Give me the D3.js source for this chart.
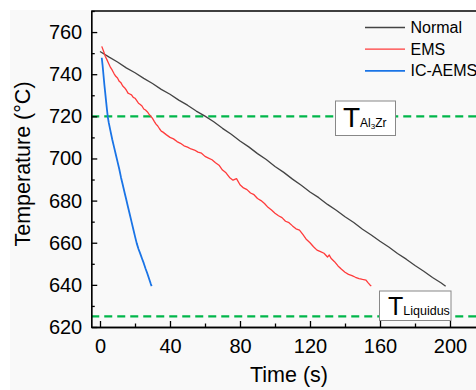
<!DOCTYPE html>
<html>
	<head>
		<meta charset = "utf-8">
		<script src = "https://d3js.org/d3.v7.min.js"></script>
		<style>
			body { margin: 0; background: #ffffff; }
			text { font-family: "Liberation Sans", Arial, sans-serif; fill: #000; }
		</style>
	</head>
	<body>
		<script>
			/* datos */
			var normalTime = [0, 5, 10, 15, 20, 25, 30, 35, 40, 45, 50, 55, 60, 65, 70, 75, 80, 85, 90, 95, 100,
			                  105, 110, 115, 120, 125, 130, 135, 140, 145, 150, 155, 160, 165, 170, 175, 180, 185, 190, 195, 197.5];
			var normalTemp = [750.8, 748.2, 745.8, 743.0, 740.7, 738.0, 735.6, 732.8, 730.5, 727.7, 725.3, 722.5, 720.1, 717.4, 714.3, 711.5, 708.3, 705.5, 702.3, 699.5, 696.2,
			                  693.4, 690.2, 687.3, 684.1, 681.4, 678.2, 675.4, 672.3, 669.6, 666.4, 663.7, 660.7, 658.0, 654.9, 652.2, 649.2, 646.5, 643.5, 640.9, 639.3];

			var emsTime = [1, 2, 3, 4, 5, 6, 7, 8, 9, 10, 11, 12, 13, 14, 15, 16, 17, 18, 19, 20, 21, 22, 23, 24, 25, 26, 27, 28, 29, 30,
			               31, 32, 33, 34, 35, 36, 38, 40, 42, 44, 46, 48, 50, 52, 54, 56, 58, 60, 62, 64, 66, 68, 70, 72, 74, 76, 78, 80,
			               82, 84, 86, 88, 90, 92, 94, 96, 98, 100, 102, 104, 106, 108, 110, 112, 114, 116, 118, 120, 122, 124, 126, 128,
			               130, 131, 132, 134, 136, 138, 140, 142, 144, 146, 148, 150, 152, 153, 154, 155];
			var emsTemp = [753.2, 751.0, 748.5, 746.8, 745.0, 743.2, 741.9, 740.3, 739.0, 738.2, 736.6, 735.9, 734.4, 733.6, 732.5, 731.0, 730.6, 730.2, 729.0, 728.6,
			               727.5, 726.2, 725.6, 724.9, 723.5, 723.0, 722.2, 721.0, 720.1, 719.0, 717.6, 716.3, 715.4, 714.1, 713.0, 712.5, 711.2, 710.0, 709.3, 708.0,
			               707.2, 706.0, 705.4, 704.5, 704.0, 703.0, 702.5, 701.0, 700.2, 699.4, 698.0, 696.8, 694.5, 693.2, 691.0, 689.7, 690.4, 687.5, 686.0, 685.2,
			               683.6, 682.8, 681.0, 680.0, 678.6, 676.8, 675.5, 674.0, 672.8, 671.9, 670.2, 669.5, 668.0, 666.6, 666.0, 663.8, 661.5, 660.0, 658.1, 656.5,
			               655.8, 655.0, 653.2, 654.2, 652.6, 651.0, 649.0, 647.4, 646.0, 645.0, 644.4, 643.6, 643.0, 642.6, 642.3, 641.2, 640.2, 639.4];

			var icTime = [1, 1.5, 2, 2.5, 3, 3.5, 4, 4.5, 5, 6, 7, 8, 9, 10, 11, 12, 13, 14, 15, 16, 17, 18, 19, 20, 21, 22, 23, 24, 25, 26, 27, 28, 29, 29.5];
			var icTemp = [747.8, 744.0, 739.5, 735.0, 731.0, 727.0, 723.0, 719.5, 717.0, 713.0, 709.0, 705.5, 702.0, 698.5, 695.0, 691.0, 687.5, 684.0, 680.5, 677.0,
			              673.5, 670.0, 666.5, 663.0, 659.7, 657.0, 654.8, 652.5, 650.3, 647.8, 645.5, 643.0, 640.5, 639.4];

			var seriesNames = ["Normal", "EMS", "IC-AEMS"];
			var seriesColors = ["#444444", "#ff3b3b", "#1a74e6"];
			var xTicks = [0, 40, 80, 120, 160, 200];
			var yTicks = [620, 640, 660, 680, 700, 720, 740, 760];
			var al3zrTemp = 720, liquidusTemp = 625;

			var width = 476, height = 390;

			var svg = d3.select("body").append("svg")
				.attr("width", width)
				.attr("height", height);

			/* fondo gris claro como en la imagen */
			svg.append("rect")
				.attr("x", 10).attr("y", 10)
				.attr("width", width - 10).attr("height", height - 10)
				.attr("fill", "#f9f9f9");

			var x = d3.scaleLinear().domain([-5, 220]).range([91.25, 485]);
			var y = d3.scaleLinear().domain([620, 770]).range([327, 11]);

			/* marco superior */
			svg.append("line")
				.attr("x1", x(-5)).attr("x2", width)
				.attr("y1", y(770)).attr("y2", y(770))
				.attr("stroke", "#000").attr("stroke-width", 1.3);

			/* lineas discontinuas verdes */
			[al3zrTemp, liquidusTemp].forEach(function(t){
				svg.append("line")
					.attr("x1", x(-5)).attr("x2", width)
					.attr("y1", y(t)).attr("y2", y(t))
					.attr("stroke", "#00b64a")
					.attr("stroke-width", 2.2)
					.attr("stroke-dasharray", "8,5");
			});

			/* ejes con ticks hacia dentro */
			var xAxis = svg.append("g")
				.attr("transform", "translate(0," + y(620) + ")")
				.call(d3.axisBottom(x).tickValues(xTicks).tickSizeInner(-6).tickSizeOuter(0).tickPadding(12));
			var xMinor = svg.append("g")
				.attr("transform", "translate(0," + y(620) + ")")
				.call(d3.axisBottom(x).tickValues([20, 60, 100, 140, 180]).tickSizeInner(-3.5).tickSizeOuter(0).tickFormat(""));
			var yAxis = svg.append("g")
				.attr("transform", "translate(" + x(-5) + ",0)")
				.call(d3.axisLeft(y).tickValues(yTicks).tickSizeInner(-6).tickSizeOuter(0).tickPadding(9));
			var yMinor = svg.append("g")
				.attr("transform", "translate(" + x(-5) + ",0)")
				.call(d3.axisLeft(y).tickValues([630, 650, 670, 690, 710, 730, 750, 770]).tickSizeInner(-3.5).tickSizeOuter(0).tickFormat(""));

			[xAxis, xMinor, yAxis, yMinor].forEach(function(g){
				g.select(".domain").attr("stroke", "#000").attr("stroke-width", 1.3);
				g.selectAll(".tick line").attr("stroke", "#000").attr("stroke-width", 1.3);
			});
			xAxis.selectAll(".tick text").style("font-size", "20px").style("font-family", "Liberation Sans, Arial, sans-serif");
			yAxis.selectAll(".tick text").style("font-size", "20px").style("font-family", "Liberation Sans, Arial, sans-serif");

			/* titulos de los ejes */
			svg.append("text")
				.attr("x", 289).attr("y", 382)
				.attr("text-anchor", "middle")
				.style("font-size", "21.5px")
				.text("Time (s)");
			svg.append("text")
				.attr("transform", "translate(30," + 164 + ") rotate(-90)")
				.attr("text-anchor", "middle")
				.style("font-size", "21.5px")
				.text("Temperature (°C)");

			/* curvas */
			var series = [
				{ name: seriesNames[0], t: normalTime, v: normalTemp, c: seriesColors[0], w: 1.3 },
				{ name: seriesNames[1], t: emsTime, v: emsTemp, c: seriesColors[1], w: 1.3 },
				{ name: seriesNames[2], t: icTime, v: icTemp, c: seriesColors[2], w: 1.8 }
			];
			var line = d3.line()
				.x(function(d){ return x(d[0]); })
				.y(function(d){ return y(d[1]); });

			series.forEach(function(s){
				var pts = s.t.map(function(t, i){ return [t, s.v[i]]; });
				svg.append("path")
					.datum(pts)
					.attr("d", line)
					.attr("fill", "none")
					.attr("stroke", s.c)
					.attr("stroke-width", s.w)
					.attr("stroke-linejoin", "round");
			});

			/* leyenda */
			var legend = svg.append("g");
			series.forEach(function(s, i){
				var ly = 27.5 + i * 21.7;
				legend.append("line")
					.attr("x1", 365).attr("x2", 405)
					.attr("y1", ly).attr("y2", ly)
					.attr("stroke", s.c).attr("stroke-width", s.w);
				legend.append("text")
					.attr("x", 410.5).attr("y", ly + 5.5)
					.style("font-size", "16px")
					.text(s.name);
			});

			/* etiquetas de las temperaturas */
			svg.append("rect")
				.attr("x", 335.5).attr("y", 101)
				.attr("width", 60).attr("height", 34.5)
				.attr("fill", "#ffffff").attr("stroke", "#888").attr("stroke-width", 1);
			var tAl = svg.append("text").attr("x", 343).attr("y", 127);
			tAl.append("tspan").style("font-size", "28px").text("T");
			tAl.append("tspan").style("font-size", "12px").text("Al");
			tAl.append("tspan").attr("dy", 2).style("font-size", "8px").text("3");
			tAl.append("tspan").attr("dy", -2).style("font-size", "12px").text("Zr");

			svg.append("rect")
				.attr("x", 379.5).attr("y", 291)
				.attr("width", 71.5).attr("height", 29.5)
				.attr("fill", "#ffffff").attr("stroke", "#888").attr("stroke-width", 1);
			var tLiq = svg.append("text").attr("x", 388).attr("y", 314.5);
			tLiq.append("tspan").style("font-size", "25px").text("T");
			tLiq.append("tspan").style("font-size", "12.5px").text("Liquidus");
		</script>
	</body>
</html>
